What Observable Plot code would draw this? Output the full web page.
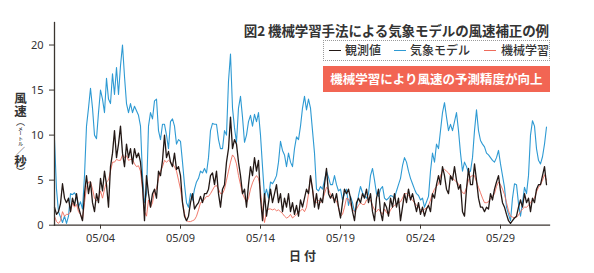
<!DOCTYPE html>
<html>
<head>
<meta charset="utf-8">
<script src="https://cdn.jsdelivr.net/npm/d3@7"></script>
<script src="https://cdn.jsdelivr.net/npm/@observablehq/plot@0.6"></script>
<style>
  html, body { margin: 0; padding: 0; background: #fff; }
  #wrap { position: relative; width: 594px; height: 273px; font-family: "Noto Sans CJK JP", "Noto Sans", sans-serif; color: #333; }
  #chart svg { display: block; }
  .abs { position: absolute; white-space: nowrap; }
  #title { right: 45px; top: 20px; font-size: 13.5px; font-weight: 700; color: #333; letter-spacing: -0.1px; }
  #legend { left: 323px; top: 40px; width: 225px; height: 19px; border: 1px dotted #9a9a9a; }
  .lg { position: absolute; top: 49.5px; height: 1.3px; width: 12px; }
  .lt { position: absolute; top: 41px; font-size: 12px; font-weight: 500; color: #333; line-height: 18px; }
  #banner { left: 323px; top: 66px; width: 227px; height: 26px; background: #F26553; color: #fff; font-size: 12.5px; font-weight: 700; text-align: center; line-height: 26px; }
  #ylab { left: 13px; top: 92px; writing-mode: vertical-rl; font-size: 12.5px; font-weight: 700; color: #333; line-height: 14px; }
  #ylab .sm { font-size: 5px; font-weight: 500; }
  #ylab .pa { font-size: 9px; font-weight: 400; }
  #xlab { left: 289px; top: 247px; font-size: 12px; font-weight: 700; color: #333; letter-spacing: 3px; }
</style>
</head>
<body>
<div id="wrap">
  <div id="chart"></div>
  <div id="title" class="abs">図2 機械学習手法による気象モデルの風速補正の例</div>
  <div id="legend" class="abs"></div>
  <div class="lg" style="left:329px;background:#231815;"></div>
  <div class="lt" style="left:345px;">観測値</div>
  <div class="lg" style="left:394px;background:#2E9AD3;height:1px;"></div>
  <div class="lt" style="left:410px;">気象モデル</div>
  <div class="lg" style="left:484px;background:#EE6B5B;height:1px;"></div>
  <div class="lt" style="left:501px;">機械学習</div>
  <div id="banner" class="abs">機械学習により風速の予測精度が向上</div>
  <div id="ylab" class="abs">風速<span class="pa">（</span><span class="sm">メートル</span><span class="pa">／</span>秒<span class="pa">）</span></div>
  <div id="xlab" class="abs">日付</div>
</div>
<script>
// 3-hourly series starting 05/01 03:00
const seriesNames = ["観測値", "気象モデル", "機械学習"];
const tickLabels = ["05/04", "05/09", "05/14", "05/19", "05/24", "05/29"];
const yTicks = [0, 5, 10, 15, 20];

const observed = [
  2.0, 1.2, 1.5, 2.4, 4.6, 3.0, 2.5,
  3.0, 1.5, 3.0, 2.2, 3.5, 2.0, 1.2, 0.5,
  3.5, 5.5, 3.5, 4.8, 2.5, 1.5, 3.5, 2.5,
  5.2, 3.8, 6.0, 4.5, 2.0, 6.5, 8.0, 10.5,
  7.5, 9.0, 11.0, 8.0, 6.5, 9.0, 7.5, 8.5,
  6.8, 8.5, 7.5, 8.0, 7.0, 4.5, 0.5, 5.5,
  3.5, 2.0, 3.5, 4.0, 3.0, 6.0, 5.5, 7.2,
  10.0, 7.5, 8.2, 7.0, 6.5, 8.0, 6.2, 6.5,
  5.5, 2.5, 1.0, 0.5, 1.0, 2.5, 3.5, 1.8,
  2.2, 2.5, 3.2, 2.5, 3.5, 3.5, 4.0, 5.5,
  5.8, 4.5, 6.0, 3.5, 2.0, 4.0, 4.5, 7.0,
  8.5, 12.0, 8.5, 9.5, 9.0, 7.0, 5.5, 3.5,
  4.0, 2.0, 4.5, 6.5, 5.5, 7.5, 6.0, 7.2,
  3.0, 0.5, 3.5, 1.0, 2.5, 4.0, 2.5, 3.5,
  4.5, 2.5, 3.5, 1.5, 3.0, 2.0, 3.5, 1.5,
  2.5, 1.2, 2.2, 1.0, 2.8, 2.0, 3.0, 4.0,
  3.5, 5.5, 4.0, 2.0, 3.5, 1.8, 3.0, 2.5,
  4.5, 6.3, 3.5, 3.0, 3.5, 2.5, 3.5, 2.0,
  0.8, 2.5, 4.0, 3.5, 4.0, 3.0, 1.5, 0.5,
  2.5, 3.0, 2.5, 3.5, 3.0, 4.0, 2.5, 3.5,
  1.5, 0.5, 3.0, 4.0, 1.5, 0.5, 2.5, 2.0,
  1.0, 3.0, 2.0, 3.5, 2.0, 3.0, 0.5, 2.0,
  3.5, 2.5, 4.0, 2.8, 3.5, 2.5, 1.5, 2.5,
  1.2, 2.0, 1.0, 1.8, 2.2, 1.5, 3.5, 3.0,
  4.5, 5.5, 4.5, 6.5, 5.5, 4.0, 3.5, 5.5,
  5.0, 6.5, 5.0, 4.0, 4.5, 1.5, 1.0, 4.0,
  6.3, 4.5, 4.5, 6.8, 5.0, 3.0, 2.0, 2.0,
  1.5, 2.0, 1.8, 3.5, 2.8, 4.0, 4.8, 5.5,
  3.8, 2.5, 2.0, 1.2, 0.5, 0.2, 0.5, 0.8,
  1.0, 2.0, 2.8, 2.0, 3.5, 2.5, 3.0, 1.5,
  3.0, 2.5, 4.0, 4.5, 4.5, 5.5, 6.5, 4.5
];

const model = [
  9.5, 4.0, 1.5, 0.9, 0.3, 1.0, 0.2,
  1.0, 3.5, 3.4, 3.6, 3.2, 2.0, 2.6, 1.8,
  5.5, 11.0, 13.0, 15.2, 13.0, 10.0, 9.6, 12.5,
  15.0, 14.0, 12.5, 16.3, 14.0, 13.5, 16.8, 14.5,
  17.5, 14.5, 17.7, 20.0, 16.5, 13.5, 12.5, 13.5,
  12.5, 13.2, 12.7, 12.2, 11.0, 5.5, 2.5, 3.5,
  11.0, 12.5, 11.8, 13.8, 14.0, 10.5, 9.5, 11.2,
  11.2, 10.0, 8.5, 11.5, 11.8, 11.0, 9.0, 9.5,
  9.3, 7.0, 4.5, 2.5, 2.0, 3.5, 2.8, 4.0,
  4.8, 5.2, 6.0, 5.8, 6.3, 5.8, 7.5, 10.5,
  11.3, 11.2, 11.2, 9.5, 8.5, 8.5, 10.5, 10.0,
  16.0, 19.0, 13.0, 10.8, 9.2, 13.0, 14.3, 12.0,
  9.2, 10.0, 11.5, 12.2, 11.0, 12.3, 11.5, 12.5,
  10.0, 6.5, 3.2, 4.0, 3.0, 4.8, 4.6, 5.0,
  5.5, 7.0, 9.3, 8.3, 7.8, 6.5, 8.0, 7.0,
  6.5, 8.5, 9.8, 9.5, 11.0, 13.0, 14.3, 12.8,
  14.0, 13.0, 10.5, 8.0, 4.0, 3.8, 4.3, 4.0,
  5.0, 6.0, 5.3, 4.5, 4.5, 5.5, 4.5, 3.8,
  4.0, 2.8, 3.5, 4.0, 2.2, 3.2, 2.5, 1.5,
  2.0, 3.3, 4.3, 3.6, 3.3, 3.0, 3.5, 5.5,
  6.3, 5.0, 3.5, 3.2, 4.0, 4.3, 3.0, 2.8,
  3.0, 3.3, 3.2, 3.0, 3.8, 4.5, 5.2, 6.6,
  7.5, 7.0, 6.0, 5.2, 4.6, 4.0, 3.5, 3.3,
  2.8, 3.0, 2.0, 2.6, 3.2, 6.0, 8.0, 7.0,
  9.0, 8.5, 10.5, 12.5, 13.6, 12.0, 10.5, 11.2,
  10.5, 11.5, 12.5, 10.5, 8.0, 6.0, 7.0, 6.5,
  5.8, 6.0, 7.5, 10.5, 12.8, 10.5, 9.4, 9.0,
  8.7, 8.0, 7.8, 7.5, 7.2, 7.0, 7.5, 8.3,
  6.8, 5.5, 4.2, 2.0, 1.2, 0.5, 3.0, 4.6,
  4.5, 2.4, 1.0, 2.5, 4.2, 3.5, 5.5, 10.0,
  11.6, 11.0, 8.5, 7.2, 6.8, 7.6, 9.0, 10.9
];

const ml = [
  1.0, 0.4, 0.2, 0.5, 1.5, 1.0, 1.2,
  1.2, 1.5, 2.5, 2.0, 2.3, 1.5, 1.2, 0.6,
  2.5, 4.2, 4.8, 4.8, 4.0, 3.0, 2.7, 3.0,
  3.8, 3.0, 4.0, 4.8, 5.0, 6.0, 7.0, 7.0,
  7.3, 7.2, 7.2, 7.8, 7.5, 7.7, 7.2, 7.3,
  7.3, 6.8, 6.5, 6.6, 6.0, 4.0, 1.5, 1.0,
  2.8, 2.0, 2.5, 3.8, 4.0, 5.2, 6.0, 6.5,
  7.2, 7.0, 7.2, 7.0, 6.8, 6.5, 6.0, 5.0,
  4.0, 2.5, 1.3, 0.5, 0.4, 0.4, 0.5, 0.6,
  1.0, 1.7, 2.5, 2.6, 2.9, 3.2, 3.2, 3.5,
  3.9, 4.3, 4.4, 4.0, 3.5, 3.5, 4.0, 5.0,
  6.0, 7.0, 7.8, 7.5, 6.8, 5.5, 4.5, 3.5,
  3.0, 2.5, 3.0, 4.0, 4.7, 5.2, 5.5, 5.2,
  3.8, 1.5, 0.3, 1.5, 1.8, 1.8, 1.7, 1.8,
  1.6, 1.7, 1.5, 1.3, 1.0, 0.8, 0.9, 1.2,
  0.8, 1.0, 1.2, 1.5, 1.6, 1.8, 1.5, 2.0,
  3.5, 5.3, 4.0, 2.5, 2.5, 2.8, 2.5, 2.8,
  3.5, 4.2, 4.0, 3.4, 3.0, 2.9, 2.7, 2.0,
  1.0, 1.2, 2.0, 3.0, 2.9, 2.3, 1.7, 1.5,
  1.8, 2.2, 2.5, 2.3, 2.3, 2.8, 3.0, 2.8,
  2.2, 1.7, 1.5, 1.8, 1.5, 1.2, 1.8, 1.4,
  1.2, 1.7, 2.0, 2.2, 2.3, 2.5, 2.6, 3.0,
  3.5, 3.5, 3.3, 3.0, 2.8, 2.5, 2.2, 2.0,
  1.7, 1.5, 1.8, 1.9, 2.2, 2.8, 3.5, 4.0,
  4.3, 4.6, 5.5, 6.0, 6.2, 6.0, 5.8, 5.5,
  5.2, 5.0, 4.8, 4.6, 4.0, 3.6, 3.5, 4.2,
  5.0, 5.4, 5.5, 5.5, 4.8, 4.2, 3.6, 3.0,
  2.5, 2.5, 2.6, 3.0, 3.2, 3.5, 4.3, 4.8,
  4.5, 4.0, 3.4, 2.5, 1.6, 1.0, 0.9, 0.8,
  0.9, 1.1, 1.5, 1.8, 2.0, 2.0, 2.2, 2.5,
  2.8, 3.0, 3.7, 4.2, 4.5, 5.0, 5.6, 5.0
];

const start = Date.UTC(2019, 4, 1, 3);
const toRows = (arr) => arr.map((v, i) => ({ t: new Date(start + i * 3 * 3600 * 1000), v }));
const obsRows = toRows(observed);
const modelRows = toRows(model);
const mlRows = toRows(ml);
const tickDates = tickLabels.map(s => new Date(Date.UTC(2019, +s.slice(0, 2) - 1, +s.slice(3))));

const chart = Plot.plot({
  width: 594,
  height: 273,
  marginLeft: 54,
  marginRight: 45,
  marginTop: 22,
  marginBottom: 48.3,
  style: { fontFamily: "'Noto Sans', sans-serif", fontSize: "11px", color: "#333", background: "#fff" },
  x: { type: "utc", domain: [new Date(Date.UTC(2019, 4, 1, 3)), new Date(Date.UTC(2019, 5, 1, 1, 30))] },
  y: { domain: [0, 22.5] },
  marks: [
    Plot.line(modelRows, { x: "t", y: "v", stroke: "#2E9AD3", strokeWidth: 1.1 }),
    Plot.line(mlRows, { x: "t", y: "v", stroke: "#EE6B5B", strokeWidth: 0.9 }),
    Plot.line(obsRows, { x: "t", y: "v", stroke: "#231815", strokeWidth: 1.3 }),
    Plot.frame({ anchor: "left", stroke: "#3b3530", strokeWidth: 1.3 }),
    Plot.frame({ anchor: "bottom", stroke: "#3b3530", strokeWidth: 1.3 }),
    Plot.axisY({ ticks: yTicks, tickSize: 5, tickPadding: 6, label: null, stroke: "#3b3530", fill: "#333" }),
    Plot.axisX({ ticks: tickDates, tickFormat: d3.utcFormat("%m/%d"), tickSize: 4, tickPadding: 5, label: null, stroke: "#3b3530", fill: "#333" })
  ]
});
document.getElementById("chart").appendChild(chart);
</script>
</body>
</html>
